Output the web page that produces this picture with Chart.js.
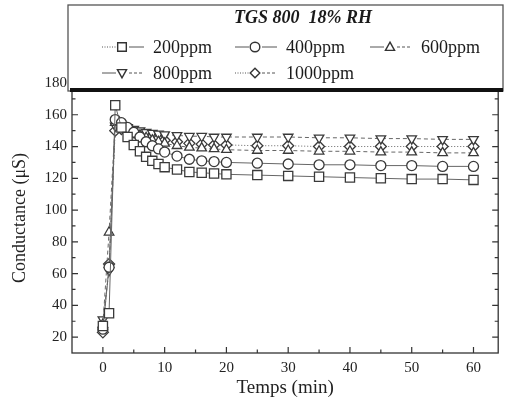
<!DOCTYPE html>
<html>
<head>
<meta charset="utf-8">
<script src="https://cdn.jsdelivr.net/npm/chart.js@4/dist/chart.umd.min.js"></script>
<style>
  body { margin: 0; background: #fff; }
  canvas { display: block; }
</style>
</head>
<body>
<canvas id="graf" width="506" height="407"></canvas>
<script>
// Temps en minutes
const temps = [0, 1, 2, 3, 4, 5, 6, 7, 8, 9, 10, 12, 14, 16, 18, 20, 25, 30, 35, 40, 45, 50, 55, 60];

// Conductance (uS), une liste par concentration
const ppm200  = [27, 35, 166, 152, 146, 141, 137, 133.5, 131, 129, 127, 125.5, 124, 123.5, 123, 122.5, 122, 121.5, 121, 120.5, 120, 119.5, 119.5, 119];
const ppm400  = [25, 64, 157, 155, 152, 149, 146, 143, 140.5, 138.5, 136.5, 134, 132, 131, 130.5, 130, 129.5, 129, 128.5, 128.5, 128, 128, 127.5, 127.5];
const ppm600  = [28, 86, 155, 153, 151, 149, 147, 145.5, 144, 143, 142, 140.5, 139.5, 139, 138.5, 138, 137.5, 137.5, 137, 137, 136.5, 136.5, 136, 136];
const ppm800  = [31, 62, 153, 153, 152, 151, 150, 149, 148.5, 148, 147.5, 147, 146.5, 146.5, 146, 146, 146, 146, 145.5, 145.5, 145, 145, 144.5, 144.5];
const ppm1000 = [23, 66, 150, 151, 150, 149, 148, 147, 146, 145, 144, 143, 142, 141.5, 141, 141, 140.5, 140.5, 140, 140, 140, 140, 140, 140];

const noms = ['200ppm', '400ppm', '600ppm', '800ppm', '1000ppm'];
const titre = 'TGS 800  18% RH';

// Graduations
const xTicks = [0, 10, 20, 30, 40, 50, 60];
const xMinor = [5, 15, 25, 35, 45, 55];
const yTicks = [20, 40, 60, 80, 100, 120, 140, 160, 180];
const yMinor = [30, 50, 70, 90, 110, 130, 150, 170];

const serif = '"Liberation Serif", "DejaVu Serif", serif';
const trait = '#333';

// style de chaque courbe
const styles = [
  { pointStyle: 'rect', rotation: 0, radius: 6.5, dash: [] },
  { pointStyle: 'circle', rotation: 0, radius: 5, dash: [] },
  { pointStyle: 'triangle', rotation: 0, radius: 5.5, dash: [4, 3] },
  { pointStyle: 'triangle', rotation: 180, radius: 5.5, dash: [4, 3] },
  { pointStyle: 'rectRot', rotation: 0, radius: 5.5, dash: [1, 2] }
];

const series = [ppm200, ppm400, ppm600, ppm800, ppm1000];

const datasets = series.map((vals, i) => ({
  label: noms[i],
  data: temps.map((t, k) => ({ x: t, y: vals[k] })),
  borderColor: '#666',
  borderWidth: 1,
  borderDash: styles[i].dash,
  pointStyle: styles[i].pointStyle,
  rotation: styles[i].rotation,
  pointRadius: styles[i].radius,
  pointBorderWidth: 1.3,
  pointBorderColor: '#3a3a3a',
  pointBackgroundColor: '#fff',
  tension: 0
}));

// Dessin d'un symbole (pour la legende)
function symbole(ctx, style, rot, x, y, r) {
  ctx.save();
  ctx.translate(x, y);
  ctx.rotate(rot * Math.PI / 180);
  ctx.beginPath();
  if (style == 'rect') {
    ctx.rect(-r * 0.9, -r * 0.9, r * 1.8, r * 1.8);
  } else if (style == 'circle') {
    ctx.arc(0, 0, r, 0, Math.PI * 2);
  } else if (style == 'triangle') {
    ctx.moveTo(0, -r);
    ctx.lineTo(r * 0.95, r * 0.7);
    ctx.lineTo(-r * 0.95, r * 0.7);
    ctx.closePath();
  } else {
    ctx.moveTo(0, -r);
    ctx.lineTo(r, 0);
    ctx.lineTo(0, r);
    ctx.lineTo(-r, 0);
    ctx.closePath();
  }
  ctx.fillStyle = '#fff';
  ctx.fill();
  ctx.lineWidth = 1.4;
  ctx.strokeStyle = '#333';
  ctx.stroke();
  ctx.restore();
}

// Cadre, graduations internes et boite de legende
const cadre = {
  id: 'cadre',
  afterDatasetsDraw(chart) {
    const ctx = chart.ctx;
    const a = chart.chartArea;
    const sx = chart.scales.x;
    const sy = chart.scales.y;
    ctx.save();
    ctx.strokeStyle = trait;
    ctx.lineWidth = 1.3;
    ctx.strokeRect(a.left, a.top, a.right - a.left, a.bottom - a.top);
    ctx.lineWidth = 1.2;
    ctx.beginPath();
    xTicks.concat(xMinor).forEach(v => {
      const px = sx.getPixelForValue(v);
      const len = xTicks.includes(v) ? 6 : 3.5;
      ctx.moveTo(px, a.bottom);
      ctx.lineTo(px, a.bottom - len);
    });
    yTicks.concat(yMinor).forEach(v => {
      const py = sy.getPixelForValue(v);
      const len = yTicks.includes(v) ? 6 : 3.5;
      ctx.moveTo(a.left, py);
      ctx.lineTo(a.left + len, py);
      ctx.moveTo(a.right, py);
      ctx.lineTo(a.right - len, py);
    });
    ctx.stroke();
    ctx.restore();
  },
  afterDraw(chart) {
    const ctx = chart.ctx;
    ctx.save();
    // boite
    ctx.fillStyle = '#fff';
    ctx.fillRect(68, 5, 435, 86);
    ctx.strokeStyle = '#555';
    ctx.lineWidth = 1.3;
    ctx.strokeRect(68, 5, 435, 86);
    ctx.fillStyle = '#111';
    ctx.fillRect(70, 88, 433, 4);

    // titre
    ctx.fillStyle = '#1a1a1a';
    ctx.font = 'italic bold 18px ' + serif;
    ctx.textAlign = 'center';
    ctx.textBaseline = 'middle';
    ctx.fillText(titre, 303, 18);

    // entrees
    const cols = [102, 235, 370];
    const rows = [47, 73];
    ctx.font = '18px ' + serif;
    ctx.textAlign = 'left';
    noms.forEach((nom, i) => {
      const x0 = cols[i % 3];
      const y = rows[Math.floor(i / 3)];
      ctx.strokeStyle = '#555';
      ctx.lineWidth = 1;
      ctx.setLineDash(i == 0 || i == 4 ? [1, 1.5] : []);
      ctx.beginPath();
      ctx.moveTo(x0, y);
      ctx.lineTo(x0 + 14, y);
      ctx.stroke();
      ctx.setLineDash(i == 3 || i == 2 || i == 4 ? [3, 2] : []);
      ctx.beginPath();
      ctx.moveTo(x0 + 27, y);
      ctx.lineTo(x0 + 42, y);
      ctx.stroke();
      ctx.setLineDash([]);
      symbole(ctx, styles[i].pointStyle, styles[i].rotation, x0 + 20, y, 4.8);
      ctx.fillStyle = '#1a1a1a';
      ctx.fillText(nom, x0 + 51, y + 1);
    });
    ctx.restore();
  }
};

new Chart(document.getElementById('graf'), {
  type: 'line',
  data: { datasets: datasets },
  plugins: [cadre],
  options: {
    responsive: false,
    animation: false,
    layout: { padding: { top: 83, right: 4, left: 0, bottom: 0 } },
    plugins: {
      legend: { display: false },
      tooltip: { enabled: false }
    },
    scales: {
      x: {
        type: 'linear',
        min: -5,
        max: 64,
        afterBuildTicks: s => { s.ticks = xTicks.map(v => ({ value: v })); },
        afterFit: s => { s.height = 54; },
        grid: { display: false, drawTicks: false },
        border: { display: false },
        ticks: { autoSkip: false, maxRotation: 0, padding: 6, color: '#222', font: { family: serif, size: 15 } },
        title: { display: true, text: 'Temps (min)', color: '#222', padding: { top: 0, bottom: 8 }, font: { family: serif, size: 19 } }
      },
      y: {
        min: 10,
        max: 180,
        afterBuildTicks: s => { s.ticks = yTicks.map(v => ({ value: v })); },
        afterFit: s => { s.width = 72; },
        grid: { display: false, drawTicks: false },
        border: { display: false },
        ticks: { autoSkip: false, padding: 5, color: '#222', font: { family: serif, size: 15 } },
        title: { display: true, text: 'Conductance (μS)', color: '#222', padding: { top: 9, bottom: 0 }, font: { family: serif, size: 18 } }
      }
    }
  }
});
</script>
</body>
</html>
